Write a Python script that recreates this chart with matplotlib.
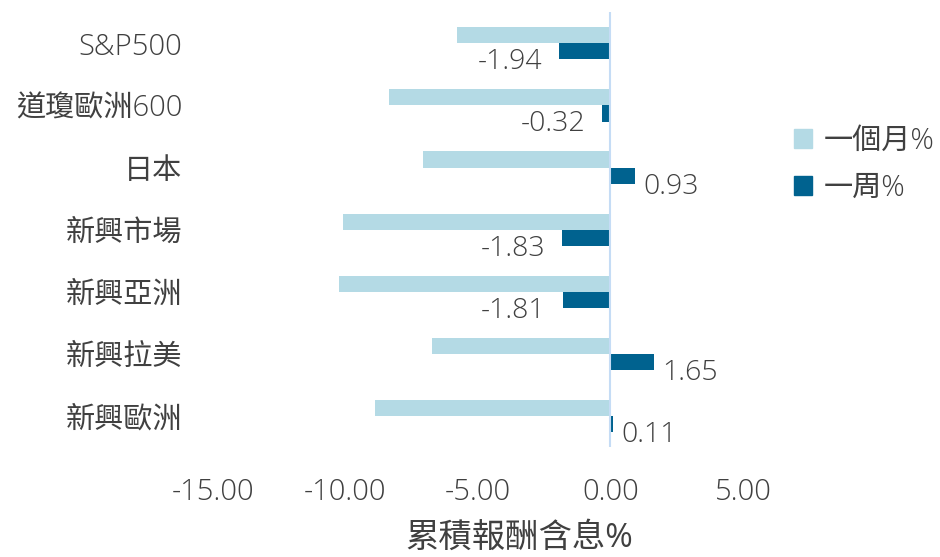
import matplotlib
matplotlib.use("Agg")
from matplotlib import pyplot as plt
from matplotlib.patches import Patch
import numpy as np

plt.rcParams['font.family'] = ['Open Sans', 'Noto Sans CJK TC', 'DejaVu Sans']
plt.rcParams['font.weight'] = 'light'

categories = ["S&P500", "道瓊歐洲600", "日本", "新興市場", "新興亞洲", "新興拉美", "新興歐洲"]
month_ret = [-5.81, -8.34, -7.09, -10.08, -10.26, -6.72, -8.87]
week_ret = [-1.94, -0.32, 0.93, -1.83, -1.81, 1.65, 0.11]
xticks = [-15, -10, -5, 0, 5]

light = "#b4dae5"
dark = "#00628f"
txt = "#404040"

fig = plt.figure(figsize=(9.4, 5.57), dpi=100)
ax = fig.add_axes([0.2266, 0.197, 0.5638, 0.781])

y = np.arange(len(categories))
h = 0.26
ax.barh(y - h / 2, month_ret, height=h, color=light)
ax.barh(y + h / 2, week_ret, height=h, color=dark)

for yi, v in zip(y, week_ret):
    if v < 0:
        ax.annotate(f"{v:.2f}", (v, yi + h), xytext=(-12, -2), textcoords="offset points",
                    ha="right", va="center", fontsize=20.5, color=txt)
    else:
        ax.annotate(f"{v:.2f}", (v, yi + h), xytext=(6, -2), textcoords="offset points",
                    ha="left", va="center", fontsize=20.5, color=txt)

ax.axvline(0, color="#c5dcf5", lw=1.5)
ax.set_xlim(-15, 5)
ax.set_ylim(len(categories) - 0.5, -0.5)
ax.set_yticks(y)
ax.set_yticklabels(categories)
ax.set_xticks(xticks)
ax.set_xticklabels([f"{t:.2f}" for t in xticks])
ax.tick_params(axis="both", length=0, labelsize=21, colors=txt)
ax.tick_params(axis="y", pad=22)
ax.tick_params(axis="x", pad=22)
for s in ax.spines.values():
    s.set_visible(False)

ax.set_xlabel("累積報酬含息%", fontsize=24, color=txt)
ax.xaxis.set_label_coords(0.577, -0.172)

handles = [Patch(color=light, label="一個月%"), Patch(color=dark, label="一周%")]
fig.legend(handles=handles, loc="center left", bbox_to_anchor=(0.845, 0.705), frameon=False,
           fontsize=21, labelcolor=txt, handlelength=0.6, handleheight=0.6,
           handletextpad=0.4, labelspacing=0.6, borderaxespad=0, borderpad=0)

plt.savefig("out.png")
